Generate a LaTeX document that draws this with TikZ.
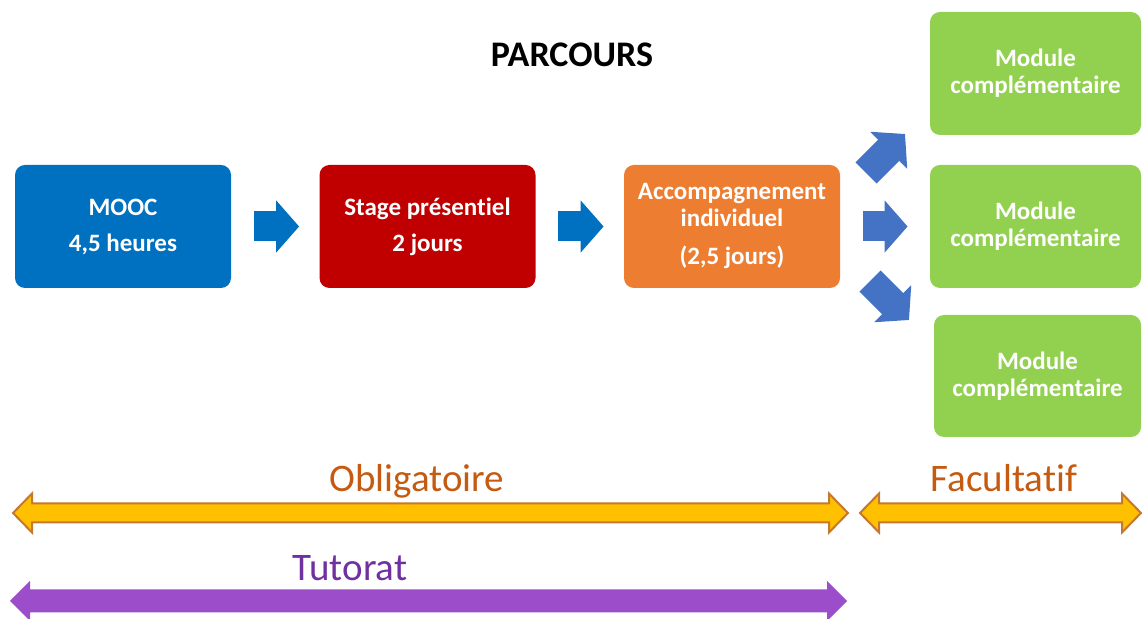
\documentclass[tikz,border=0pt]{standalone}
\usepackage{fontspec}
\setmainfont{Carlito}[Ligatures=NoCommon]
\usetikzlibrary{arrows.meta}
\definecolor{cBlue}{HTML}{0070C0}
\definecolor{cRed}{HTML}{C00000}
\definecolor{cOrange}{HTML}{ED7D31}
\definecolor{cGreen}{HTML}{92D050}
\definecolor{cArrow}{HTML}{4472C4}
\definecolor{cYellow}{HTML}{FFC000}
\definecolor{cYellowLine}{HTML}{C5782F}
\definecolor{cBrown}{HTML}{C55A11}
\definecolor{cPurpleText}{HTML}{7030A0}
\definecolor{cPurple}{HTML}{9B4DCA}
\begin{document}
\begin{tikzpicture}[x=0.5pt,y=-0.5pt,
  box/.style={rounded corners=5pt, minimum width=108pt, minimum height=61.5pt,
    inner sep=0pt, text=white, align=center,
    font=\fontsize{12.5}{13.5}\selectfont\bfseries},
  gbox/.style={box, fill=cGreen, minimum width=105.5pt},
  barrow/.style={line width=15pt, -{Triangle[length=11.5pt,width=25.5pt]}},
  spanlabel/.style={anchor=base, inner sep=0pt, font=\fontsize{19.5}{22}\selectfont},
]
\useasboundingbox (0,0) rectangle (1142,619);

% title
\node[anchor=base, inner sep=0pt, font=\fontsize{18}{20}\selectfont\bfseries] (title) at (572,67) {PARCOURS};

% boxes
\node[box, fill=cBlue] (mooc) at (123,226.5) {MOOC\\[4.5pt]4,5 heures};
\node[box, fill=cRed] (stage) at (427.5,226.5) {Stage présentiel\\[4.5pt]2 jours};
\node[box, fill=cOrange] (acc) at (732,226.5) {Accompagnement\\individuel\\[5.5pt](2,5 jours)};
\node[gbox] (g1) at (1035.5,73.5) {Module\\complémentaire};
\node[gbox] (g2) at (1035.5,226.5) {Module\\complémentaire};
\node[gbox, minimum width=103.5pt, minimum height=61pt] (g3) at (1037.5,376) {Module\\complémentaire};

% block arrows
\draw[barrow, cBlue] ([xshift=11.5pt]mooc.east) -- ([xshift=-10pt]stage.west);
\draw[barrow, cBlue] ([xshift=11pt]stage.east) -- ([xshift=-10pt]acc.west);
\draw[barrow, cArrow] ([xshift=11.5pt]acc.east) -- ([xshift=-11pt]g2.west);
\coordinate (ua) at (866,173);
\coordinate (ub) at (905,134);
\coordinate (la) at (870,281);
\coordinate (lb) at (909,320);
\draw[barrow, cArrow] (ua) -- (ub);
\draw[barrow, cArrow] (la) -- (lb);

% span arrows
\filldraw[fill=cYellow, draw=cYellowLine, line width=1pt, line join=miter]
  (13,513) -- (32,493.5) -- (32,503.5) -- (829,503.5) -- (829,493.5) -- (848,513)
  -- (829,532.5) -- (829,522.5) -- (32,522.5) -- (32,532.5) -- cycle;
\filldraw[fill=cYellow, draw=cYellowLine, line width=1pt, line join=miter]
  (860,513) -- (879,493.5) -- (879,503.5) -- (1122,503.5) -- (1122,493.5) -- (1141,513)
  -- (1122,532.5) -- (1122,522.5) -- (879,522.5) -- (879,532.5) -- cycle;
\fill[cPurple]
  (10,601) -- (30,581) -- (30,589.5) -- (827,589.5) -- (827,581) -- (847,601)
  -- (827,621) -- (827,612.5) -- (30,612.5) -- (30,621) -- cycle;

% labels
\node[spanlabel, text=cBrown] (oblig) at (417,492) {Obligatoire};
\node[spanlabel, text=cBrown] (facul) at (1004,492) {Facultatif};
\node[spanlabel, text=cPurpleText] (tut) at (350,581) {Tutorat};
\end{tikzpicture}
\end{document}
